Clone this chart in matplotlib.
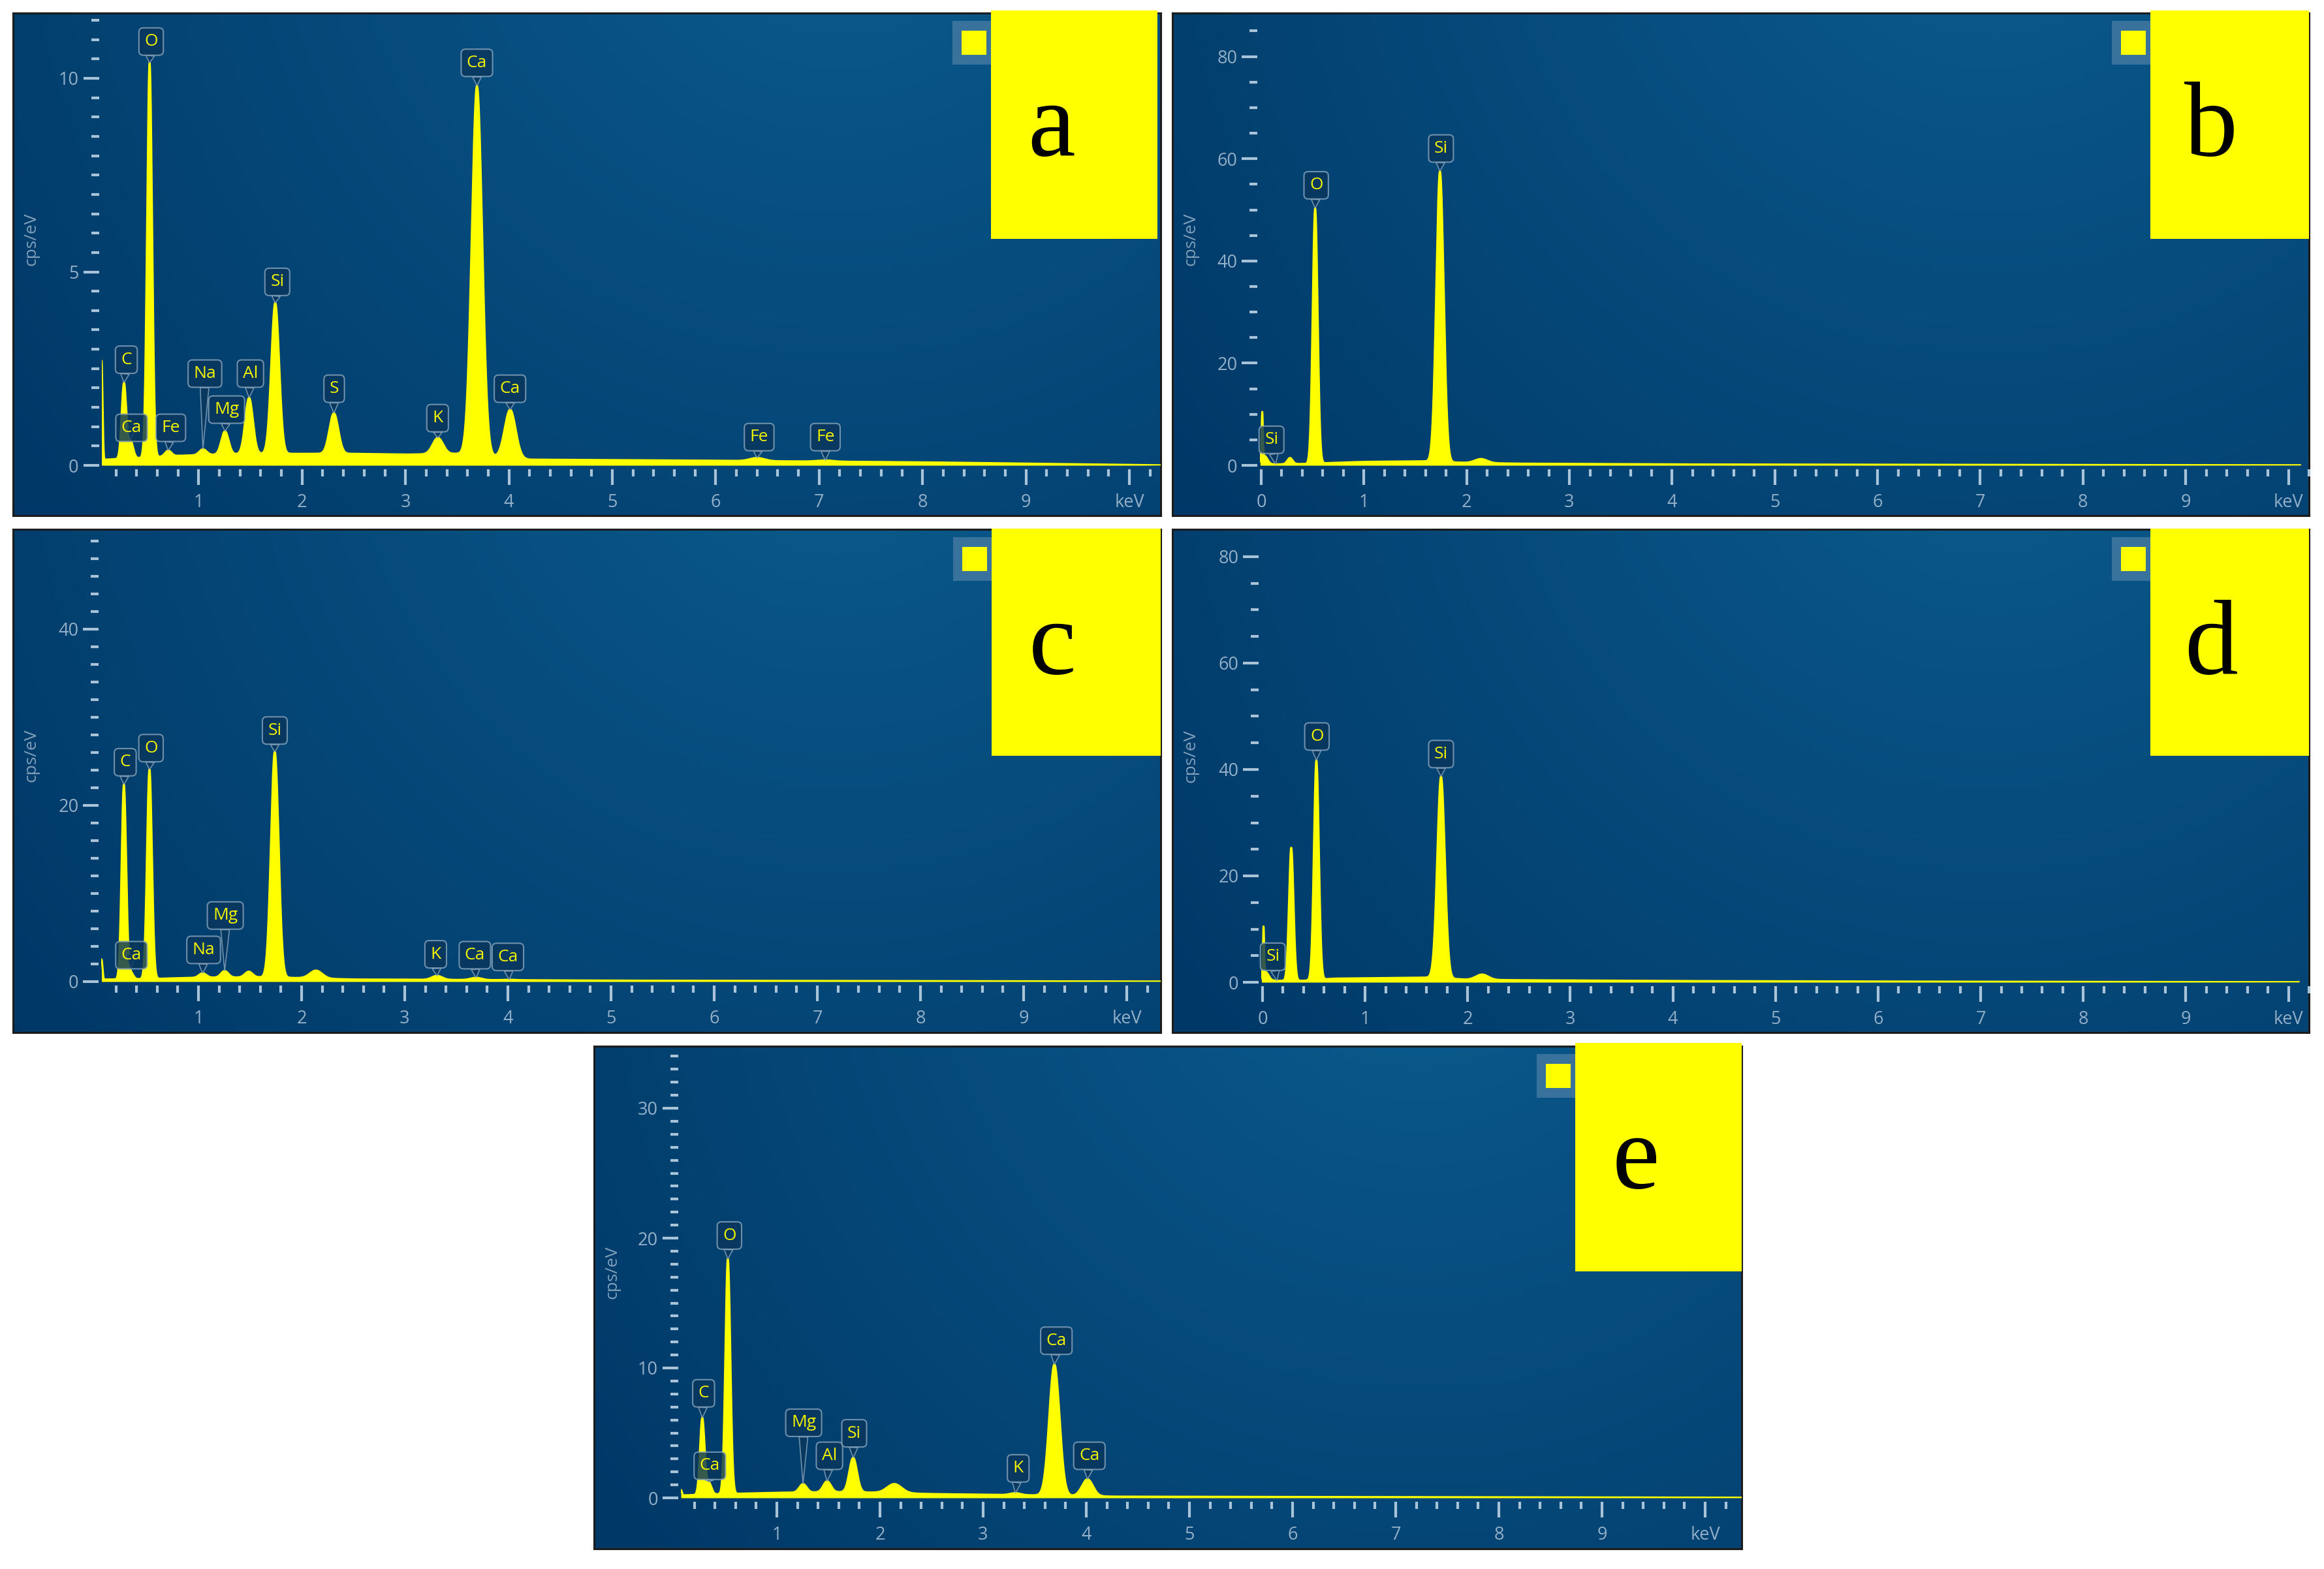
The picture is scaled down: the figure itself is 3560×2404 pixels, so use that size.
import numpy as np
import matplotlib.pyplot as plt
from matplotlib.patches import Rectangle

plt.rcParams['font.family'] = ['Open Sans', 'DejaVu Sans']

W, H = 3560, 2404

# ---- spectra: peaks (energy keV, net height cps/eV, sigma keV) and background knots
a_peaks = [(0.06, 2.7, 0.010), (0.277, 1.95, 0.022), (0.341, 0.45, 0.025), (0.525, 10.2, 0.024),
           (0.705, 0.15, 0.030), (1.041, 0.15, 0.035), (1.254, 0.60, 0.035), (1.487, 1.45, 0.037),
           (1.740, 3.90, 0.038), (2.307, 1.05, 0.043), (3.313, 0.42, 0.050), (3.691, 9.55, 0.050),
           (4.012, 1.25, 0.053), (6.40, 0.08, 0.070), (7.06, 0.03, 0.075)]
a_background = [(0.06, 0.0), (0.1, 0.15), (0.5, 0.2), (0.8, 0.25), (1.5, 0.3), (2.5, 0.3),
                (3.0, 0.28), (3.5, 0.3), (4.2, 0.15), (6.0, 0.12), (8.0, 0.08), (9.5, 0.03), (10.4, 0.0)]
a_labels = [("O", 0.525), ("Ca", 3.691), ("Si", 1.740), ("C", 0.277), ("Na", 1.041), ("Al", 1.487),
            ("Mg", 1.254), ("S", 2.307), ("Ca", 4.012), ("K", 3.313), ("Ca", 0.341), ("Fe", 0.705),
            ("Fe", 6.40), ("Fe", 7.06)]

b_peaks = [(0.01, 9.0, 0.006), (0.03, 1.8, 0.030), (0.28, 1.2, 0.025), (0.525, 50.0, 0.024),
           (1.740, 56.9, 0.036), (2.14, 0.8, 0.060)]
b_background = [(-0.01, 0.0), (0.1, 0.2), (0.45, 0.3), (0.7, 0.5), (1.0, 0.7), (1.6, 0.8), (2.0, 0.5),
                (2.5, 0.35), (4.0, 0.2), (6.0, 0.15), (8.0, 0.08), (10.4, 0.03)]
b_labels = [("Si", 0.14), ("O", 0.525), ("Si", 1.740)]

c_peaks = [(0.06, 2.5, 0.010), (0.277, 22.1, 0.022), (0.341, 0.8, 0.025), (0.525, 23.8, 0.024),
           (1.041, 0.5, 0.035), (1.254, 0.75, 0.035), (1.487, 0.65, 0.037), (1.740, 25.6, 0.037),
           (2.14, 0.9, 0.060), (3.313, 0.45, 0.050), (3.691, 0.25, 0.052), (4.012, 0.05, 0.055)]
c_background = [(0.06, 0.0), (0.1, 0.25), (0.5, 0.3), (1.0, 0.45), (1.7, 0.5), (2.0, 0.4), (2.5, 0.25),
                (3.5, 0.2), (5.0, 0.12), (8.0, 0.06), (10.4, 0.02)]
c_labels = [("C", 0.277), ("O", 0.525), ("Si", 1.740), ("Ca", 0.341), ("Na", 1.041), ("Mg", 1.254),
            ("K", 3.313), ("Ca", 3.691), ("Ca", 4.012)]

d_peaks = [(0.01, 9.0, 0.006), (0.03, 1.8, 0.030), (0.28, 25.0, 0.022), (0.525, 41.3, 0.024),
           (1.740, 37.9, 0.037), (2.14, 1.0, 0.060)]
d_background = [(-0.01, 0.0), (0.1, 0.3), (0.4, 0.3), (0.7, 0.7), (1.2, 0.8), (1.65, 0.9), (2.0, 0.5),
                (2.5, 0.4), (4.0, 0.25), (6.0, 0.15), (8.0, 0.08), (10.4, 0.03)]
d_labels = [("Si", 0.14), ("O", 0.525), ("Si", 1.740)]

e_peaks = [(0.07, 0.6, 0.010), (0.277, 5.9, 0.022), (0.341, 0.9, 0.025), (0.525, 18.1, 0.024),
           (1.254, 0.65, 0.035), (1.487, 0.85, 0.037), (1.740, 2.65, 0.037), (2.14, 0.7, 0.070),
           (3.313, 0.15, 0.050), (3.691, 10.1, 0.050), (4.012, 1.3, 0.053)]
e_background = [(0.07, 0.0), (0.1, 0.2), (0.5, 0.3), (1.0, 0.4), (1.7, 0.45), (2.0, 0.4), (2.5, 0.3),
                (3.5, 0.2), (4.3, 0.1), (6.0, 0.08), (8.0, 0.05), (10.4, 0.02)]
e_labels = [("C", 0.277), ("O", 0.525), ("Ca", 0.341), ("Mg", 1.254), ("Al", 1.487), ("Si", 1.740),
            ("K", 3.313), ("Ca", 3.691), ("Ca", 4.012)]

# y ticks: majors, minor step, last minor
a_yticks = ([0, 5, 10], 0.5, 11.5)
b_yticks = ([0, 20, 40, 60, 80], 5, 85)
c_yticks = ([0, 20, 40], 2, 50)
d_yticks = ([0, 20, 40, 60, 80], 5, 75)
e_yticks = ([0, 10, 20, 30], 1, 34)

# ---- layout (pixels): panel box, x=0 / y=0 pixel, px per unit, label box positions
layout = {
    'a': dict(box=(20, 20, 1778, 790), x0=146, kx=158.4, y0=713, ky=59.3, xstart=0.06,
              tag=(1518, 16, 1773, 366),
              pos=[(0.54, 10.95), (3.69, 10.4), (1.76, 4.74), (0.30, 2.73), (1.06, 2.37), (1.50, 2.37),
                   (1.27, 1.44), (2.31, 1.98), (4.01, 1.98), (3.31, 1.22), (0.35, 0.97), (0.73, 0.97),
                   (6.42, 0.73), (7.06, 0.73)]),
    'b': dict(box=(1796, 20, 3537, 790), x0=1932, kx=158.7, y0=713, ky=7.83, xstart=-0.01,
              tag=(3294, 16, 3537, 366),
              pos=[(0.10, 5.0), (0.535, 54.8), (1.75, 62.0)]),
    'c': dict(box=(20, 811, 1778, 1582), x0=146, kx=158.0, y0=1504, ky=13.5, xstart=0.06,
              tag=(1519, 810, 1778, 1158),
              pos=[(0.29, 24.9), (0.54, 26.5), (1.74, 28.5), (0.35, 3.0), (1.05, 3.6), (1.26, 7.5),
                   (3.30, 3.1), (3.68, 3.0), (4.00, 2.8)]),
    'd': dict(box=(1796, 811, 3537, 1582), x0=1934, kx=158.7, y0=1505, ky=8.15, xstart=-0.01,
              tag=(3294, 810, 3537, 1158),
              pos=[(0.10, 4.8), (0.53, 46.2), (1.74, 42.9)]),
    'e': dict(box=(910, 1603, 2668, 2373), x0=1032, kx=158.0, y0=2295, ky=19.9, xstart=0.07,
              tag=(2413, 1598, 2668, 1948),
              pos=[(0.29, 8.05), (0.54, 20.2), (0.35, 2.47), (1.26, 5.78), (1.51, 3.24), (1.75, 4.97),
                   (3.34, 2.27), (3.71, 12.1), (4.03, 3.24)]),
}

panels = {
    'a': (a_peaks, a_background, a_labels, a_yticks),
    'b': (b_peaks, b_background, b_labels, b_yticks),
    'c': (c_peaks, c_background, c_labels, c_yticks),
    'd': (d_peaks, d_background, d_labels, d_yticks),
    'e': (e_peaks, e_background, e_labels, e_yticks),
}

YEL = '#ffff00'
TICK = '#a9c3d8'
TXT = '#93b0c8'
PX = 72 / 100  # points per pixel


def frect(L, T, R, B):
    return [L / W, 1 - B / H, (R - L) / W, (B - T) / H]


def spectrum(energy, peaks, bg):
    bg_e, bg_h = zip(*bg)
    y = np.interp(energy, bg_e, bg_h)
    for e0, h, s in peaks:
        y = y + h * np.exp(-0.5 * ((energy - e0) / s) ** 2)
    return y


fig = plt.figure(figsize=(W / 100, H / 100), dpi=100)
fig.patch.set_facecolor('white')

c_light = np.array([0x0b, 0x5c, 0x8e]) / 255
c_dark = np.array([0x00, 0x37, 0x66]) / 255

for key, (peaks, bg, labels, yt) in panels.items():
    lay = layout[key]
    L, T, R, B = lay['box']
    pw, ph = R - L, B - T

    # gradient panel background
    bax = fig.add_axes(frect(L, T, R, B), zorder=0)
    gx, gy = np.meshgrid(np.linspace(0, 1, 300), np.linspace(0, 1, 150))
    d = np.hypot((gx - 0.72) * pw, (gy - 1.3) * ph)
    t = np.clip(d / 1650, 0, 1)[..., None]
    bax.imshow(c_light + (c_dark - c_light) * t, origin='lower', extent=[0, 1, 0, 1], aspect='auto')
    bax.set_xlim(0, 1)
    bax.set_ylim(0, 1)
    bax.set_xticks([])
    bax.set_yticks([])
    for sp in bax.spines.values():
        sp.set_color('#1c1c1c')
        sp.set_linewidth(2.2)

    # spectrum axes covering the data region
    xs = lay['xstart']
    xend = (R - lay['x0']) / lay['kx']
    ytop = (lay['y0'] - T) / lay['ky']
    left_px = lay['x0'] + xs * lay['kx']
    ax = fig.add_axes(frect(left_px, T, R, lay['y0']), zorder=2)
    ax.patch.set_alpha(0)
    ax.set_xlim(xs, xend)
    ax.set_ylim(0, ytop)

    energy = np.linspace(xs, xend, 6000)
    counts = spectrum(energy, peaks, bg)
    ax.fill_between(energy, 0, counts, color=YEL, lw=0, zorder=2)
    ax.plot(energy, counts, color=YEL, lw=2.2, zorder=2)

    for (txt, target), (lx, ly) in zip(labels, lay['pos']):
        top = np.interp(target, energy, counts)
        ax.annotate(txt, xy=(target, top), xytext=(lx, ly), ha='center', va='center',
                    fontsize=19, color='#f4f400', annotation_clip=False, zorder=5,
                    bbox=dict(boxstyle='round,pad=0.32,rounding_size=0.25', fc='#0a365c',
                              ec='#86a3bb', lw=1.5, alpha=0.82),
                    arrowprops=dict(arrowstyle='wedge,tail_width=0.5,shrink_factor=0.5',
                                    fc='#0a365c', ec='#86a3bb', lw=1.2, alpha=0.82,
                                    shrinkA=0, shrinkB=0))

    # axes, ticks
    for side in ('top', 'right'):
        ax.spines[side].set_visible(False)
    ax.spines['left'].set_position(('outward', 4 * PX))
    ax.spines['bottom'].set_position(('outward', 6 * PX))
    ax.spines['left'].set_color('none')
    ax.spines['bottom'].set_color('none')

    xmaj = list(range(0 if xs < 0.03 else 1, 11))
    ax.set_xticks(xmaj)
    ax.set_xticklabels([str(v) if v < 10 else 'keV' for v in xmaj])
    ax.set_xticks([v / 10 for v in range(2, 103, 2) if v % 10 != 0], minor=True)

    ymaj, ystep, ylast = yt
    ax.set_yticks(ymaj)
    ax.set_yticklabels([str(v) for v in ymaj])
    ax.set_yticks([v for v in np.arange(ystep, ylast + ystep / 2, ystep) if v not in ymaj], minor=True)

    ax.tick_params(axis='x', which='major', direction='out', length=24 * PX, width=3.0,
                   color=TICK, pad=13 * PX, labelsize=19.5, labelcolor=TXT)
    ax.tick_params(axis='x', which='minor', direction='out', length=11 * PX, width=3.0, color=TICK)
    ax.tick_params(axis='y', which='major', direction='out', length=24 * PX, width=3.0,
                   color=TICK, pad=7 * PX, labelsize=19.5, labelcolor=TXT)
    ax.tick_params(axis='y', which='minor', direction='out', length=12 * PX, width=3.0, color=TICK)

    ymid = (T + lay['y0']) / 2
    fig.text((L + 28) / W, 1 - ymid / H, 'cps/eV', rotation=90, ha='center', va='center',
             fontsize=19, color='#7f9fba', zorder=3)

    # legend swatch
    tl, tt, tr, tb = lay['tag']
    fig.add_artist(Rectangle(((tl - 59) / W, 1 - (T + 79) / H), 64 / W, 67 / H,
                             transform=fig.transFigure, fc='#5a88ad', ec='none', alpha=0.6, zorder=3))
    fig.add_artist(Rectangle(((tl - 45) / W, 1 - (T + 64) / H), 38 / W, 37 / H,
                             transform=fig.transFigure, fc=YEL, ec='none', zorder=4))

    # panel tag
    fig.add_artist(Rectangle((tl / W, 1 - tb / H), (tr - tl) / W, (tb - tt) / H,
                             transform=fig.transFigure, fc=YEL, ec='none', zorder=10))
    fig.text((tl + 93) / W, 1 - (tt + 222) / H, key, ha='center', va='baseline',
             fontsize=118, family=['Liberation Serif', 'DejaVu Serif'], color='black', zorder=11)

fig.savefig('out.png', dpi=100, facecolor='white')
